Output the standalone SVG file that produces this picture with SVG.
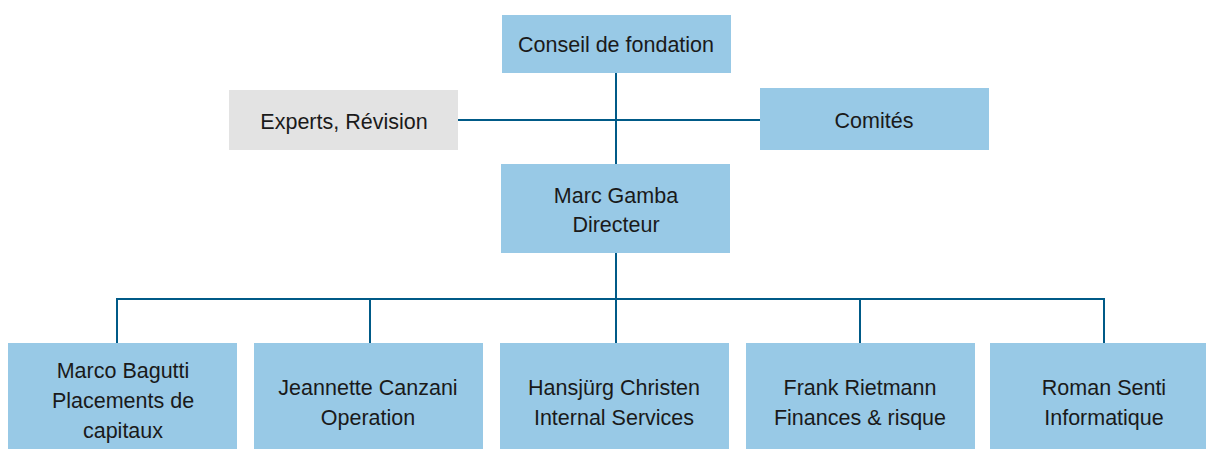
<svg xmlns="http://www.w3.org/2000/svg" width="1206" height="449" viewBox="0 0 1206 449">
<style>
.b{fill:#98c9e6}
.g{fill:#e3e3e3}
text{font-family:"Liberation Sans",Arial,sans-serif;font-size:21.5px;fill:#1a1a1a;text-anchor:middle}
.c{stroke:#005a87;stroke-width:2;fill:none}
</style>
<rect width="1206" height="449" fill="#ffffff"/>
<g id="connectors">
<path class="c" d="M616 73V165M458 120H760M616 253V299M117 299H1105M117 298V343M370 298V343M616 298V343M860 298V343M1104 298V343"/>
</g>
<g id="conseil"><rect class="b" x="502" y="15" width="229" height="58"/><text x="616" y="52">Conseil de fondation</text></g>
<g id="experts"><rect class="g" x="229" y="90" width="229" height="60"/><text x="344" y="129">Experts, Révision</text></g>
<g id="comites"><rect class="b" x="760" y="88" width="229" height="62"/><text x="874" y="128">Comités</text></g>
<g id="gamba"><rect class="b" x="501" y="164" width="229" height="89"/><text x="616" y="203">Marc Gamba</text><text x="616" y="232">Directeur</text></g>
<g id="bagutti"><rect class="b" x="8" y="343" width="229" height="106"/><text x="123" y="378">Marco Bagutti</text><text x="123" y="408">Placements de</text><text x="123" y="438">capitaux</text></g>
<g id="canzani"><rect class="b" x="254" y="343" width="229" height="106"/><text x="368" y="395">Jeannette Canzani</text><text x="368" y="425">Operation</text></g>
<g id="christen"><rect class="b" x="500" y="343" width="229" height="106"/><text x="614" y="395">Hansjürg Christen</text><text x="614" y="425">Internal Services</text></g>
<g id="rietmann"><rect class="b" x="746" y="343" width="229" height="106"/><text x="860" y="395">Frank Rietmann</text><text x="860" y="425">Finances &amp; risque</text></g>
<g id="senti"><rect class="b" x="990" y="343" width="216" height="106"/><text x="1104" y="395">Roman Senti</text><text x="1104" y="425">Informatique</text></g>
</svg>
